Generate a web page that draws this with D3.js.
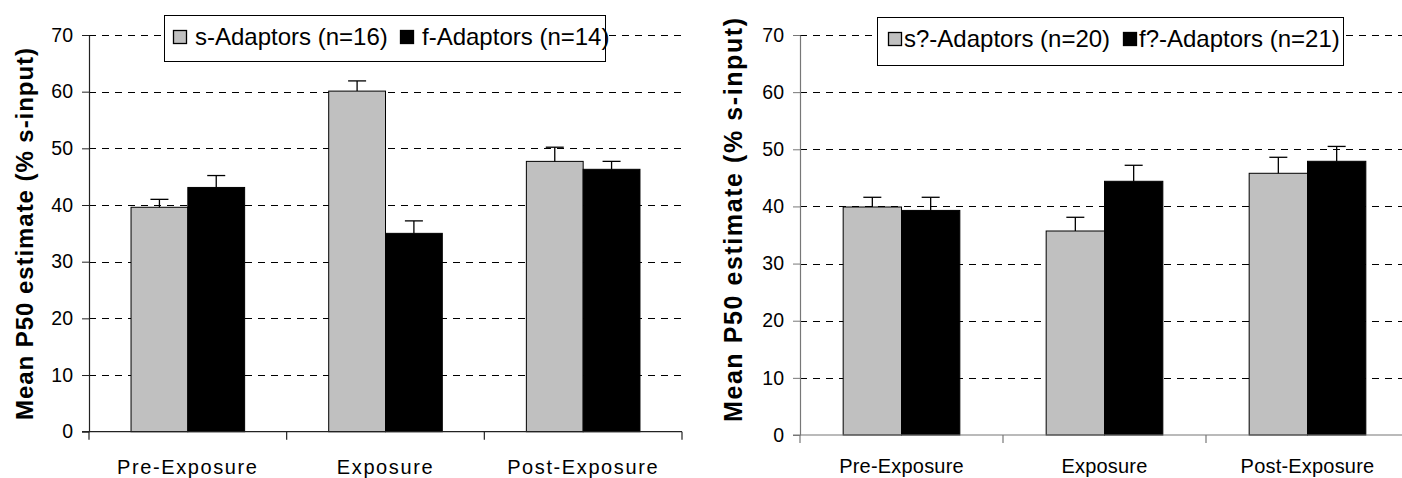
<!DOCTYPE html>
<html>
<head>
<meta charset="utf-8">
<script src="https://cdn.jsdelivr.net/npm/d3@7"></script>
<style>
  html, body { margin: 0; padding: 0; background: #fff; }
  svg { display: block; font-family: "Liberation Sans", Arial, sans-serif; }
</style>
</head>
<body>
<svg width="1402" height="478"></svg>
<script>
// data
const categories = ['Pre-Exposure', 'Exposure', 'Post-Exposure'];
const groups = ['s', 'f'];
const yTicks = [0, 10, 20, 30, 40, 50, 60, 70];

const leftSMeans = [39.6, 60.1, 47.7];
const leftSErr = [1.4, 1.8, 2.5];
const leftFMeans = [43.1, 35.0, 46.3];
const leftFErr = [2.1, 2.2, 1.4];
const leftLegend = ['s-Adaptors (n=16)', 'f-Adaptors (n=14)'];

const rightSMeans = [39.9, 35.7, 45.8];
const rightSErr = [1.7, 2.4, 2.8];
const rightFMeans = [39.3, 44.4, 47.9];
const rightFErr = [2.3, 2.8, 2.6];
const rightLegend = ['s?-Adaptors (n=20)', 'f?-Adaptors (n=21)'];

const yTitle = 'Mean P50 estimate (% s-input)';

const GRAY = '#c0c0c0';
const BLACK = '#000';

const svg = d3.select('svg');

function drawPanel(cfg) {
    const rows = categories.map((c, i) => ({
        cat: c,
        vals: [
            { g: 's', v: cfg.sMeans[i], e: cfg.sErr[i] },
            { g: 'f', v: cfg.fMeans[i], e: cfg.fErr[i] }
        ]
    }));

    const g = svg.append('g');

    const x = d3.scaleBand()
        .domain(categories)
        .range([cfg.x0, cfg.x1])
        .padding(0);

    const xSub = d3.scaleBand()
        .domain(groups)
        .range([0, x.bandwidth()])
        .paddingInner(0)
        .paddingOuter(0.74);

    const y = d3.scaleLinear()
        .domain([0, 70])
        .range([cfg.yBottom, cfg.yTop]);

    /* dashed grid */
    g.selectAll('line.grid')
        .data(yTicks.filter(t => t > 0))
        .enter().append('line')
        .attr('class', 'grid')
        .attr('x1', cfg.x0).attr('x2', cfg.gridEnd)
        .attr('y1', d => Math.round(y(d)) + 0.5)
        .attr('y2', d => Math.round(y(d)) + 0.5)
        .attr('stroke', '#000')
        .attr('stroke-width', 1)
        .attr('stroke-dasharray', '7,6');

    /* bars */
    const grp = g.selectAll('g.cat')
        .data(rows)
        .enter().append('g')
        .attr('transform', d => 'translate(' + x(d.cat) + ',0)');

    grp.selectAll('rect')
        .data(d => d.vals)
        .enter().append('rect')
        .attr('x', d => xSub(d.g))
        .attr('y', d => y(d.v))
        .attr('width', xSub.bandwidth())
        .attr('height', d => y(0) - y(d.v))
        .attr('fill', d => d.g === 's' ? GRAY : BLACK)
        .attr('stroke', '#000')
        .attr('stroke-width', 1);

    /* error bars, upper side only */
    grp.selectAll('line.err')
        .data(d => d.vals)
        .enter().append('line')
        .attr('class', 'err')
        .attr('x1', d => xSub(d.g) + xSub.bandwidth() / 2)
        .attr('x2', d => xSub(d.g) + xSub.bandwidth() / 2)
        .attr('y1', d => y(d.v))
        .attr('y2', d => y(d.v + d.e))
        .attr('stroke', '#000')
        .attr('stroke-width', 1.3);

    grp.selectAll('line.cap')
        .data(d => d.vals)
        .enter().append('line')
        .attr('class', 'cap')
        .attr('x1', d => xSub(d.g) + xSub.bandwidth() / 2 - 9)
        .attr('x2', d => xSub(d.g) + xSub.bandwidth() / 2 + 9)
        .attr('y1', d => y(d.v + d.e))
        .attr('y2', d => y(d.v + d.e))
        .attr('stroke', '#000')
        .attr('stroke-width', 1.3);

    /* y axis */
    const yAxis = g.append('g')
        .attr('transform', 'translate(' + cfg.x0 + ',0)')
        .call(d3.axisLeft(y)
            .tickValues(yTicks)
            .tickSize(7)
            .tickSizeOuter(0)
            .tickPadding(9));
    yAxis.select('.domain').attr('stroke', cfg.axisColor).attr('stroke-width', 1.2);
    yAxis.selectAll('.tick line').attr('stroke', cfg.axisColor);
    yAxis.selectAll('.tick text')
        .attr('font-size', 19.5)
        .attr('fill', '#000')
        .attr('font-family', '"Liberation Sans", Arial, sans-serif');

    /* x axis: line, ticks at band edges, labels centred */
    g.append('line')
        .attr('x1', cfg.x0 - 7).attr('x2', cfg.axisEnd)
        .attr('y1', y(0)).attr('y2', y(0))
        .attr('stroke', cfg.axisColor)
        .attr('stroke-width', 1.2);

    const edges = categories.map(c => x(c)).concat([cfg.x1]);
    g.selectAll('line.xtick')
        .data(edges)
        .enter().append('line')
        .attr('x1', d => d).attr('x2', d => d)
        .attr('y1', y(0)).attr('y2', y(0) + 8)
        .attr('stroke', cfg.axisColor)
        .attr('stroke-width', 1.2);

    g.selectAll('text.xlab')
        .data(categories)
        .enter().append('text')
        .attr('x', d => x(d) + x.bandwidth() / 2)
        .attr('y', cfg.labelBase)
        .attr('text-anchor', 'middle')
        .attr('font-size', 20)
        .attr('letter-spacing', cfg.labelSpacing)
        .text(d => d);

    /* y title */
    g.append('text')
        .attr('transform', 'translate(' + cfg.titleX + ',' + cfg.titleY + ') rotate(-90)')
        .attr('text-anchor', 'middle')
        .attr('font-weight', 'bold')
        .attr('font-size', cfg.titleSize)
        .attr('textLength', cfg.titleLen)
        .attr('lengthAdjust', 'spacing')
        .text(yTitle);

    /* legend */
    const L = cfg.legend;
    const lg = g.append('g');
    lg.append('rect')
        .attr('x', L.x + 0.5).attr('y', L.y + 0.5)
        .attr('width', L.w).attr('height', L.h)
        .attr('fill', '#fff')
        .attr('stroke', '#000')
        .attr('stroke-width', 1);
    const items = lg.selectAll('g.item')
        .data(cfg.legendText)
        .enter().append('g')
        .attr('transform', (d, i) => 'translate(' + L.itemX[i] + ',0)');
    items.append('rect')
        .attr('x', 0.5).attr('y', L.swY + 0.5)
        .attr('width', 13).attr('height', 13)
        .attr('fill', (d, i) => i === 0 ? GRAY : BLACK)
        .attr('stroke', '#000')
        .attr('stroke-width', 1.3);
    items.append('text')
        .attr('x', L.textDx)
        .attr('y', L.base)
        .attr('font-size', 24)
        .text(d => d);
}

drawPanel({
    sMeans: leftSMeans, sErr: leftSErr, fMeans: leftFMeans, fErr: leftFErr,
    legendText: leftLegend,
    x0: 89, x1: 682, gridEnd: 682, axisEnd: 682,
    yTop: 35, yBottom: 431.7,
    axisColor: '#222',
    labelBase: 474, labelSpacing: 1.6,
    titleX: 33, titleY: 234, titleSize: 24, titleLen: 372,
    legend: { x: 164, y: 15, w: 441, h: 46, swY: 30, base: 45, itemX: [173, 400], textDx: 22 }
});

drawPanel({
    sMeans: rightSMeans, sErr: rightSErr, fMeans: rightFMeans, fErr: rightFErr,
    legendText: rightLegend,
    x0: 800, x1: 1409, gridEnd: 1402, axisEnd: 1402,
    yTop: 35, yBottom: 435,
    axisColor: '#777',
    labelBase: 473, labelSpacing: 0.2,
    titleX: 742, titleY: 220, titleSize: 25, titleLen: 404,
    legend: { x: 877, y: 17, w: 466, h: 48, swY: 32, base: 47, itemX: [888, 1123], textDx: 16 }
});
</script>
</body>
</html>
